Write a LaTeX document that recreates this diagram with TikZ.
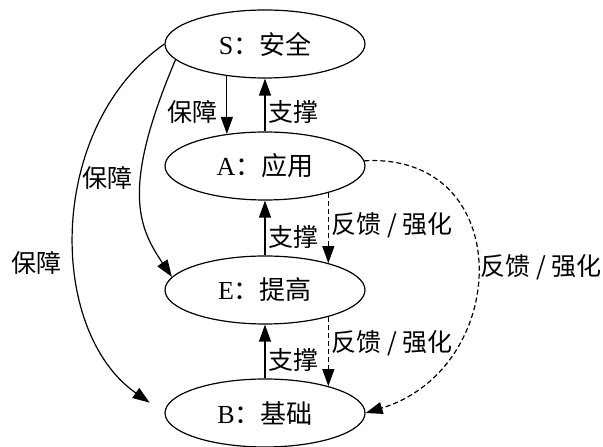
\documentclass[tikz,border=0pt]{standalone}
\usepackage{fontspec}
\setmainfont{Liberation Serif}
\newfontfamily\cjk{Noto Sans CJK SC}
\usetikzlibrary{shapes.geometric, arrows.meta}

\begin{document}
\begin{tikzpicture}[x=1pt, y=1pt, line width=1.2pt,
		state/.style={draw, ellipse, minimum width=200pt, minimum height=68pt, inner sep=0pt, font=\fontsize{26}{30}\selectfont},
		lab/.style={font=\cjk\fontsize{25}{30}\selectfont, inner sep=3pt},
		link/.style={-{Triangle[length=17pt, width=12pt]}},
		fb/.style={link, dash pattern=on 5pt off 3pt}]
				\useasboundingbox (0,0) rectangle (603,447);
				\node[state] (S)at(265, 403) {S{\cjk ：安全}};
				\node[state] (A)at(265, 281) {A{\cjk ：应用}};
				\node[state] (E)at(265, 157) {E{\cjk ：提高}};
				\node[state] (B)at(265, 34) {B{\cjk ：基础}};
				\draw[link] (S.220) -- (A.140) node[lab, left=6pt, pos=0.62] {保障};
				\draw[link] (A.north) -- (S.south) node[lab, right, pos=0.37] {支撑};
				\draw[link] (E.north) -- (A.south) node[lab, right, pos=0.34] {支撑};
				\draw[fb] (A.337) -- (E.23) node[lab, right, pos=0.46] {反馈 / 强化};
				\draw[link] (B.north) -- (E.south) node[lab, right, pos=0.35] {支撑};
				\draw[fb] (E.337) -- (B.23) node[lab, right, pos=0.38] {反馈 / 强化};
				\draw[fb] (A.3) to[out=3, in=17, looseness=1.55] node[lab, right, pos=0.5] {反馈 / 强化} (B.east);
				\draw[link] (S.190) .. controls +(247:140) and +(124:60) .. (E.172) node[lab, left=5pt, pos=0.4] {保障};
				\draw[link, shorten >=18pt] (S.west) to[out=215, in=145] node[lab, left=13pt, pos=0.58] {保障} (B.west);
			\end{tikzpicture}
\end{document}
